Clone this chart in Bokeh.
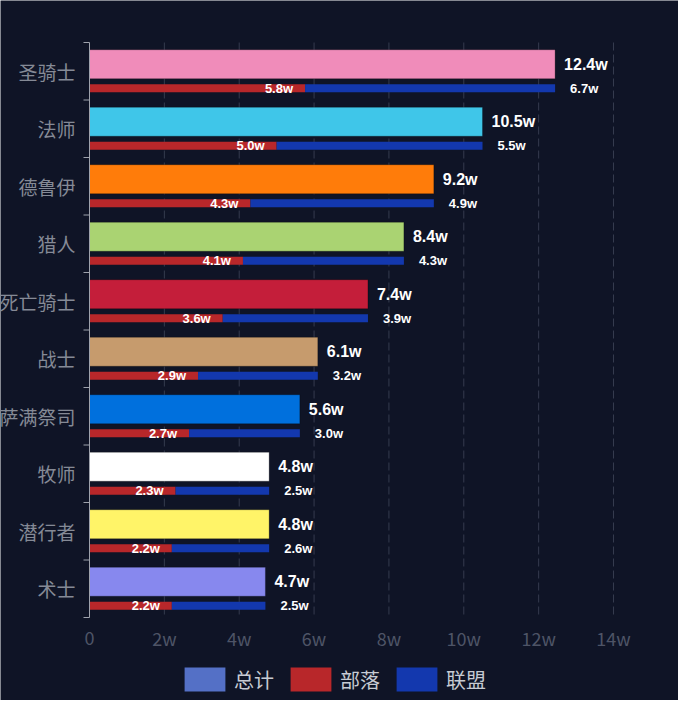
import math
from bokeh.plotting import figure
from bokeh.models import ColumnDataSource, Range1d, LabelSet, Legend, LegendItem
from bokeh.embed import file_html
from bokeh.resources import INLINE
from bokeh.core.properties import value

# ---- data ----
classes = ["圣骑士", "法师", "德鲁伊", "猎人", "死亡骑士", "战士", "萨满祭司", "牧师", "潜行者", "术士"]
total = [12.44, 10.5, 9.2, 8.4, 7.44, 6.1, 5.62, 4.8, 4.8, 4.7]
horde = [5.76, 5.0, 4.3, 4.1, 3.56, 2.9, 2.66, 2.3, 2.2, 2.2]
alliance = [6.68, 5.5, 4.9, 4.3, 3.88, 3.2, 2.96, 2.5, 2.6, 2.5]
class_colors = ["#F08CBA", "#3FC6E9", "#FF7C0A", "#AAD372", "#C41E3A",
                "#C69B6D", "#0070DD", "#FFFFFF", "#FFF468", "#8788EE"]
x_ticks = [0, 2, 4, 6, 8, 10, 12, 14]
x_tick_labels = ["0", "2w", "4w", "6w", "8w", "10w", "12w", "14w"]
legend_names = ["总计", "部落", "联盟"]
legend_colors = ["#5470C6", "#B8272A", "#1338AE"]

BG = "#0F1426"
CJK = "Noto Sans CJK SC"
NUM = "Liberation Sans"
AXIS_COLOR = "#9EA2AC"

# ---- layout geometry (pixels, relative to the canvas) ----
W, H = 678, 700
AXIS_TOP_PX = 42           # top of first category band
AXIS_LEFT_PX = 89          # position of value 0
AXIS_RIGHT_PX = 613        # position of value X_MAX
BAND_PX = 57.5             # height of one category band
X_MAX = 14

n = len(classes)
px_per_unit = (AXIS_RIGHT_PX - AXIS_LEFT_PX) / X_MAX
x_start = -AXIS_LEFT_PX / px_per_unit
x_end = X_MAX + (W - AXIS_RIGHT_PX) / px_per_unit
y_top = -AXIS_TOP_PX / BAND_PX
y_bottom = (H - AXIS_TOP_PX) / BAND_PX

idx = list(range(n))
src = ColumnDataSource(dict(
    y_tot=[i + 0.378 for i in idx],
    y_fac=[i + 0.796 for i in idx],
    y_cat=[i + 0.5 for i in idx],
    zero=[0] * n,
    cat=classes,
    total=total,
    horde=horde,
    faction_end=[h + a for h, a in zip(horde, alliance)],
    color=class_colors,
    tot_txt=[f"{v:.1f}w" for v in total],
    horde_txt=[f"{v:.1f}w" for v in horde],
    all_txt=[f"{v:.1f}w" for v in alliance],
))

p = figure(width=W, height=H, output_backend="svg", toolbar_location=None,
           x_range=Range1d(x_start, x_end), y_range=Range1d(y_bottom, y_top),
           x_axis_location=None, y_axis_location=None,
           min_border=0)
p.background_fill_color = BG
p.border_fill_color = BG
p.outline_line_color = None
p.xgrid.visible = False
p.ygrid.visible = False

# dashed value grid (2w .. 14w) over the category area
grid_x = x_ticks[1:]
p.segment(x0=grid_x, x1=grid_x, y0=[0] * len(grid_x), y1=[n] * len(grid_x),
          line_color="#353B4E", line_dash="8 4", line_width=1)

# bars
p.hbar(y="y_tot", left=0, right="total", height=0.504, source=src,
       fill_color="color", line_color="#000000", line_alpha=0.25, line_width=1)
p.hbar(y="y_fac", left=0, right="horde", height=0.139, source=src,
       fill_color=legend_colors[1], line_color=None)
p.hbar(y="y_fac", left="horde", right="faction_end", height=0.139, source=src,
       fill_color=legend_colors[2], line_color=None)

# category axis: line, boundary ticks, labels
p.segment(x0=[0], x1=[0], y0=[0], y1=[n], line_color=AXIS_COLOR, line_width=1)
p.ray(x=[0] * (n + 1), y=list(range(n + 1)), length=6, length_units="screen",
      angle=math.pi, line_color=AXIS_COLOR, line_width=1)
p.add_layout(LabelSet(x="zero", y="y_cat", text="cat", source=src, x_offset=-14,
                      text_baseline="middle", text_align="right", text_color="#858A96",
                      text_font=value(CJK), text_font_size="19px"))

# value axis labels
xsrc = ColumnDataSource(dict(x=x_ticks, y=[n + 20.5 / BAND_PX] * len(x_ticks), t=x_tick_labels))
p.add_layout(LabelSet(x="x", y="y", text="t", source=xsrc,
                      text_baseline="middle", text_align="center", text_color="#4E5466",
                      text_font=value(CJK), text_font_size="18px"))

# value labels
p.add_layout(LabelSet(x="total", y="y_tot", text="tot_txt", source=src, x_offset=9,
                      text_baseline="middle", text_align="left", text_color="#FFFFFF",
                      text_font=value(NUM), text_font_style="bold", text_font_size="16px"))
p.add_layout(LabelSet(x="horde", y="y_fac", text="horde_txt", source=src, x_offset=-12,
                      text_baseline="middle", text_align="right", text_color="#FFFFFF",
                      text_font=value(NUM), text_font_style="bold", text_font_size="13px"))
p.add_layout(LabelSet(x="total", y="y_fac", text="all_txt", source=src, x_offset=15,
                      text_baseline="middle", text_align="left", text_color="#FFFFFF",
                      text_font=value(NUM), text_font_style="bold", text_font_size="13px"))

# legend (zero-width dummy renderers carry the legend colours)
items = []
for name, col in zip(legend_names, legend_colors):
    r = p.hbar(y=[-100], left=[0], right=[0], height=0.1, fill_color=col, line_color=None)
    items.append(LegendItem(label=name, renderers=[r]))
legend = Legend(items=items, location=(179, 6), orientation="horizontal",
                glyph_width=51, glyph_height=30, label_height=30, label_standoff=4,
                spacing=11, padding=0, margin=0,
                label_text_font=CJK, label_text_font_size="20px", label_text_color="#C7CBD3",
                background_fill_alpha=0, border_line_color=None)
p.add_layout(legend, "center")

open("out.html", "w").write(file_html(p, INLINE))
